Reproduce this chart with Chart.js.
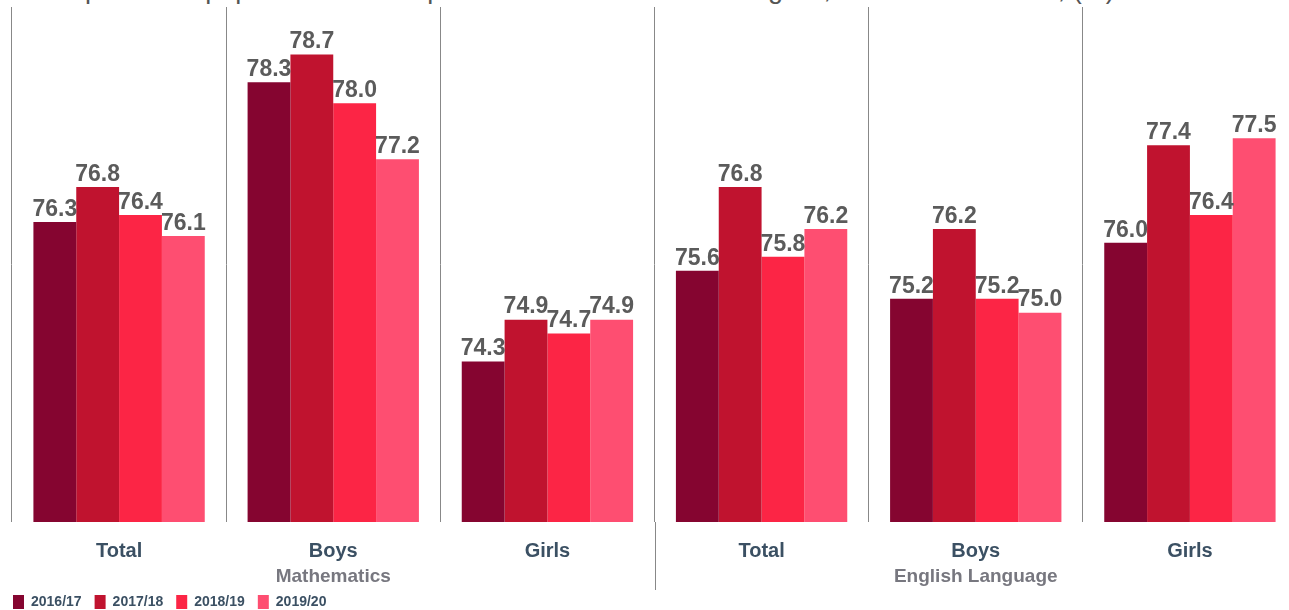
<!DOCTYPE html>
<html lang="en">
<head>
    <meta charset="UTF-8">
    <title>Pupils in JHS who passed Mathematics and English</title>
    <script src="https://cdn.jsdelivr.net/npm/chart.js"></script>
    <style>
        body {
            margin: 0;
            overflow: hidden;
            background: #fff;
            font-family: 'Liberation Sans', Arial, sans-serif;
        }
        #title {
            position: absolute;
            left: -2px;
            top: -26px;
            font-size: 27px;
            color: #555;
            white-space: nowrap;
        }
        .wrap {
            position: absolute;
            left: 0;
            top: 0;
            width: 1300px;
            height: 610px;
        }
    </style>
</head>
<body>
    <div id="title">28: Proportion of pupils in JHS who passed Mathematics and English, 2016/17 - 2019/20, (%)</div>
    <div class="wrap">
        <canvas id="chart" width="1300" height="610"></canvas>
    </div>

    <script>
        const categories = ['Total', 'Boys', 'Girls', 'Total', 'Boys', 'Girls'];
        const subjects = ['Mathematics', 'English Language'];
        const years = ['2016/17', '2017/18', '2018/19', '2019/20'];
        const y2016 = [76.3, 78.3, 74.3, 75.6, 75.2, 76.0];
        const y2017 = [76.8, 78.7, 74.9, 76.8, 76.2, 77.4];
        const y2018 = [76.4, 78.0, 74.7, 75.8, 75.2, 76.4];
        const y2019 = [76.1, 77.2, 74.9, 76.2, 75.0, 77.5];
        const colors = ['#850530', '#c0132f', '#fc2545', '#fe4e71'];

        const fam = "'Liberation Sans', Arial, sans-serif";

        // value labels above bars
        const valueLabels = {
            id: 'valueLabels',
            afterDatasetsDraw(chart) {
                const ctx = chart.ctx;
                ctx.save();
                ctx.font = 'bold 23px ' + fam;
                ctx.fillStyle = '#5b5b5b';
                ctx.textAlign = 'center';
                ctx.textBaseline = 'bottom';
                chart.data.datasets.forEach((ds, i) => {
                    chart.getDatasetMeta(i).data.forEach((bar, j) => {
                        ctx.fillText(ds.data[j].toFixed(1), bar.x, bar.y - 1);
                    });
                });
                ctx.restore();
            }
        };

        // subject names under the groups + divider between subjects
        const subjectLabels = {
            id: 'subjectLabels',
            afterDraw(chart) {
                const ctx = chart.ctx;
                const x = chart.scales.x;
                const area = chart.chartArea;
                ctx.save();
                ctx.font = 'bold 19px ' + fam;
                ctx.fillStyle = '#77777f';
                ctx.textAlign = 'center';
                ctx.textBaseline = 'middle';
                ctx.fillText(subjects[0], x.getPixelForValue(1), 577);
                ctx.fillText(subjects[1], x.getPixelForValue(4), 577);
                const mid = (x.getPixelForValue(2) + x.getPixelForValue(3)) / 2;
                ctx.strokeStyle = '#888';
                ctx.lineWidth = 1;
                ctx.beginPath();
                ctx.moveTo(Math.round(mid) + 0.5, area.bottom);
                ctx.lineTo(Math.round(mid) + 0.5, 590);
                ctx.stroke();
                ctx.restore();
            }
        };

        new Chart(document.getElementById('chart'), {
            type: 'bar',
            data: {
                labels: categories,
                datasets: [y2016, y2017, y2018, y2019].map((d, i) => ({
                    label: years[i],
                    data: d,
                    backgroundColor: colors[i],
                    borderWidth: 0,
                    categoryPercentage: 0.8,
                    barPercentage: 1.0
                }))
            },
            options: {
                responsive: false,
                animation: false,
                layout: { padding: { left: 0, right: 3, top: 7, bottom: -9 } },
                plugins: {
                    legend: {
                        position: 'bottom',
                        align: 'start',
                        labels: {
                            boxWidth: 11,
                            boxHeight: 14,
                            padding: 13,
                            color: '#3b5063',
                            font: { family: fam, size: 14, weight: 'bold' }
                        }
                    },
                    tooltip: { enabled: false }
                },
                scales: {
                    x: {
                        border: { display: false },
                        grid: { color: '#888', drawTicks: false, offset: true },
                        ticks: {
                            color: '#3b5063',
                            padding: 17,
                            font: { family: fam, size: 20, weight: 'bold' }
                        },
                        afterFit(s) { s.height = 60; }
                    },
                    y: {
                        min: 72,
                        max: 79.38,
                        border: { display: false },
                        grid: { display: false },
                        ticks: { display: false },
                        afterFit(s) { s.width = 12; }
                    }
                }
            },
            plugins: [valueLabels, subjectLabels]
        });
    </script>
</body>
</html>
